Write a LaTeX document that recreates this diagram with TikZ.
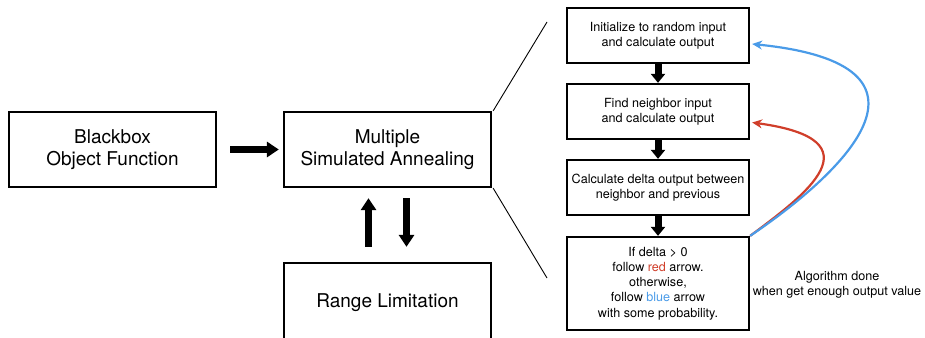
\documentclass[tikz,border=0pt]{standalone}
\usepackage{fontspec}
\setmainfont{TeX Gyre Heros}
\usetikzlibrary{arrows.meta,calc}
\definecolor{myred}{RGB}{208,62,42}
\definecolor{myblue}{RGB}{74,155,232}
\begin{document}
\begin{tikzpicture}[x=1pt,y=-1pt,
  bigbox/.style={draw, line width=2.3pt, minimum width=207pt, minimum height=75pt, align=center, font=\fontsize{19}{22.5}\selectfont, inner sep=0pt},
  smallbox/.style={draw, line width=2.3pt, minimum width=182pt, minimum height=55pt, align=center, font=\fontsize{12.6}{15.2}\selectfont, inner sep=0pt},
  fatarrow/.style={line width=7pt, -{Triangle[length=12pt,width=15pt]}},
  midarrow/.style={line width=7pt, -{Triangle[length=9pt,width=14pt]}},
  curvearrow/.style={line width=2.2pt, -{Stealth[length=10pt,width=9pt]}},
  zoomline/.style={line width=0.9pt}
]
\useasboundingbox (0,0) rectangle (925,337);
\node[bigbox] (bb) at (112.5,149.5) {Blackbox\\Object Function};
\node[bigbox] (msa) at (387.5,149.5) {Multiple\\Simulated Annealing};
\node[bigbox, minimum height=80pt] (rl) at (387.5,303) {Range Limitation};
\node[smallbox] (b1) at (658,35.5) {Initialize to random input\\and calculate output};
\node[smallbox] (b2) at (658,111.5) {Find neighbor input\\and calculate output};
\node[smallbox] (b3) at (658,187.5) {Calculate delta output between\\neighbor and previous};
\node[smallbox, minimum height=93pt] (b4) at (658,283.5) {If delta > 0\\follow \textcolor{myred}{red} arrow.\\otherwise,\\follow \textcolor{myblue}{blue} arrow\\with some probability.};
\node[font=\fontsize{12.6}{15.2}\selectfont, align=center] (done) at (837,284.5) {Algorithm done\\when get enough output value};
\coordinate (zt) at (547,22);
\coordinate (zb) at (547,278);
\draw[fatarrow, shorten <=13pt, shorten >=4pt] (bb.east) -- (msa.west);
\draw[fatarrow, shorten <=15pt, shorten >=10pt] ($(rl.north)+(-19,0)$) -- ($(msa.south)+(-19,0)$);
\draw[fatarrow, shorten <=10pt, shorten >=15pt] ($(msa.south)+(19,0)$) -- ($(rl.north)+(19,0)$);
\draw[midarrow] (b1.south) -- (b2.north);
\draw[midarrow] (b2.south) -- (b3.north);
\draw[midarrow] (b3.south) -- (b4.north);
\draw[zoomline] ([xshift=1pt]msa.north east) -- (zt);
\draw[zoomline] ([xshift=1pt]msa.south east) -- (zb);
\draw[curvearrow, myred] (b4.north east) .. controls (805,195) and (880,140) .. ([xshift=2pt,yshift=-11pt]b2.east);
\draw[curvearrow, myblue] (b4.north east) .. controls (840,175) and (960,65) .. ([xshift=2pt,yshift=-8.5pt]b1.east);
\end{tikzpicture}
\end{document}
